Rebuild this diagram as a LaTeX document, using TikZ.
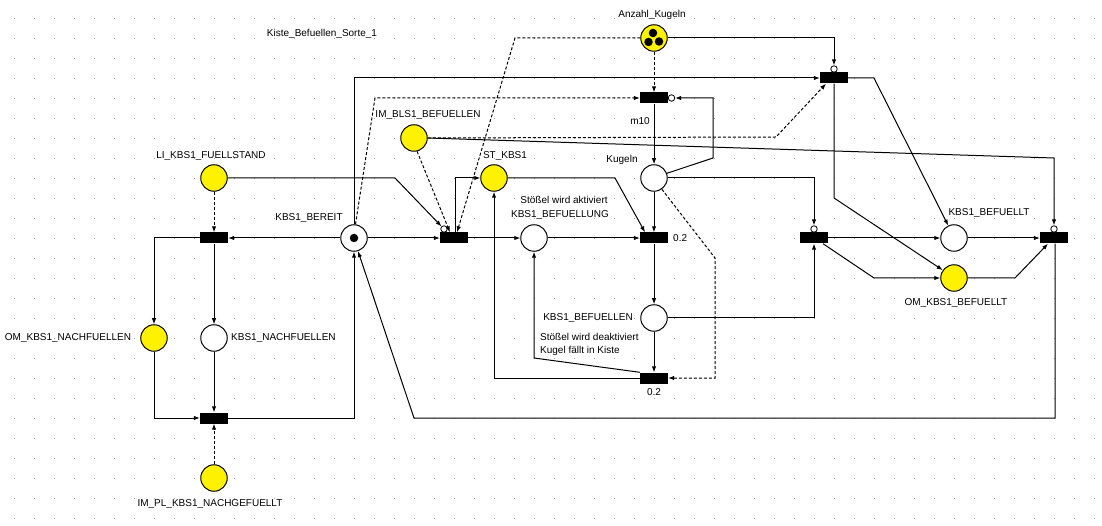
\documentclass[tikz,border=0pt]{standalone}
\usepackage{fontspec}
\setmainfont{Liberation Sans}
\usetikzlibrary{arrows.meta}
\tikzset{
  place/.style={circle, draw, line width=1pt, minimum size=26.5pt, inner sep=0pt, fill=white},
  yplace/.style={place, fill=yellow},
  trans/.style={rectangle, fill=black, minimum width=28pt, minimum height=11pt, inner sep=0pt},
  flow/.style={line width=1pt, -{Latex[length=6pt,width=4.5pt]}},
  readarc/.style={flow, dash pattern=on 3pt off 2pt},
  inh/.style={circle, draw, line width=0.8pt, minimum size=6.5pt, inner sep=0pt, fill=white},
  lbl/.style={font=\fontsize{10}{12}\selectfont, inner sep=0pt},
  token/.style={circle, fill=black, minimum size=8.5pt, inner sep=0pt}
}
\begin{document}
\begin{tikzpicture}[x=1pt,y=-1pt]
\fill[white] (0,0) rectangle (1102,526);
\useasboundingbox (0,0) rectangle (1102,526);
% grid dots
\foreach \i in {0,...,54}{\foreach \j in {0,...,25}{
  \fill[black!35] ({14+20*\i},{18+20*\j}) rectangle +(1,1);}}

% places
\node[yplace] (anz) at (654,38) {};
\node[token] (tk1) at (653,33) {};
\node[token] (tk2) at (648.5,42) {};
\node[token] (tk3) at (659,41.5) {};
\node[place] (kug) at (654,178) {};
\node[place] (bfu) at (534,238) {};
\node[yplace] (st) at (494,178) {};
\node[yplace] (imb) at (414,138) {};
\node[yplace] (li) at (214,178) {};
\node[place] (ber) at (354,238) {};
\node[token] (tk4) at (354,238) {};
\node[yplace] (omn) at (154,338) {};
\node[place] (nach) at (214,338) {};
\node[yplace] (impl) at (214,478) {};
\node[place] (bfn) at (654,318) {};
\node[place] (bft) at (954,238) {};
\node[yplace] (omb) at (954,278) {};

% transitions
\node[trans] (m10) at (654,98) {};
\node[trans] (ttop) at (834,78) {};
\node[trans] (tup) at (654,238) {};
\node[trans] (tmid) at (814,238) {};
\node[trans] (tleft) at (214,238) {};
\node[trans] (tbout) at (454,238) {};
\node[trans] (tbl) at (214,418) {};
\node[trans] (tlow) at (654,378) {};
\node[trans] (tright) at (1054,238) {};

% inhibitor circles
\node[inh] (ib) at (444,229) {};
\node[inh] (im) at (671.5,98) {};
\node[inh] (itop) at (834,69) {};
\node[inh] (imid) at (814,229) {};
\node[inh] (iright) at (1054,229) {};

% labels
\node[lbl] (l1) at (652,15) {Anzahl\_Kugeln};
\node[lbl] (l2) at (322,34) {Kiste\_Befuellen\_Sorte\_1};
\node[lbl] (l3) at (640,121) {m10};
\node[lbl] (l4) at (622,160) {Kugeln};
\node[lbl,anchor=west] (l5) at (673,238) {0.2};
\node[lbl] (l6) at (564,200) {Stößel wird aktiviert};
\node[lbl] (l7) at (560,215) {KBS1\_BEFUELLUNG};
\node[lbl] (l8) at (505,156) {ST\_KBS1};
\node[lbl] (l9) at (428,115) {IM\_BLS1\_BEFUELLEN};
\node[lbl] (l10) at (211,156) {LI\_KBS1\_FUELLSTAND};
\node[lbl] (l11) at (309,218) {KBS1\_BEREIT};
\node[lbl] (l12) at (68,338) {OM\_KBS1\_NACHFUELLEN};
\node[lbl,anchor=west] (l13) at (231,338) {KBS1\_NACHFUELLEN};
\node[lbl] (l14) at (210,504) {IM\_PL\_KBS1\_NACHGEFUELLT};
\node[lbl] (l15) at (588,318) {KBS1\_BEFUELLEN};
\node[lbl,anchor=west] (l16) at (540,337) {Stößel wird deaktiviert};
\node[lbl,anchor=west] (l17) at (540,351) {Kugel fällt in Kiste};
\node[lbl] (l18) at (654,392) {0.2};
\node[lbl] (l19) at (989,213) {KBS1\_BEFUELLT};
\node[lbl] (l20) at (956,303) {OM\_KBS1\_BEFUELLT};

% normal arcs
\draw[flow] (ber.west) -- (tleft.east);
\draw[flow] (ber.east) -- (tbout.west);
\draw[flow] (tbout.east) -- (bfu.west);
\draw[flow] (bfu.east) -- (tup.west);
\draw[flow] ([xshift=1pt]tbout.north) -- (455,178) -- (st.west);
\draw[flow] (st.east) -- (615,178) -- ([xshift=-9pt]tup.north);
\draw[flow] (kug.south) -- (tup.north);
\draw[flow] (tup.south) -- (bfn.north);
\draw[flow] (bfn.south) -- (tlow.north);
\draw[flow] (tlow.west) -- (494,378) -- (st.south);
\draw[flow] (tlow.north west) -- (534,358) -- (bfu.south);
\draw[flow] (bfn.east) -| (tmid.south);
\draw[flow] (tmid.east) -- (bft.west);
\draw[flow] ([xshift=9pt]tmid.south) -- (874,278) -- (omb.west);
\draw[flow] (bft.east) -- (tright.west);
\draw[flow] (omb.east) -- (1015,278) -- ([xshift=-6pt]tright.south);
\draw[flow] ([xshift=1pt]tright.south) -- (1055,418) -- (414,418) -- (ber.-73);
\draw[flow] (tbl.east) -| (ber.south);
\draw[flow] (tleft.west) -| (omn.north);
\draw[flow] (tleft.south) -- (nach.north);
\draw[flow] (nach.south) -- (tbl.north);
\draw[flow] (omn.south) |- (tbl.west);
\draw[flow] (ber.north) -- (354,78) -- (ttop.west);
\draw[flow] (ttop.east) -- (874,78) -- (bft.115);
\draw[flow] (ttop.south) -- (834,198) -- (omb.145);
\draw[flow] (m10.south) -- (kug.north);

% read arcs
\draw[readarc] (li.south) -- (tleft.north);
\draw[readarc] (impl.north) -- (tbl.south);
\draw[readarc] (imb.-77) -- ([xshift=-4pt]tbout.north);
\draw[readarc] (anz.west) -- (515,38) -- ([xshift=3pt]tbout.north);
\draw[readarc] (anz.south) -- (m10.north);
\draw[readarc] ([xshift=1.5pt]ber.north) -- (375,98) -- (m10.west);
\draw[readarc] (imb.east) -- (776,137) -- ([xshift=-8pt]ttop.south);
\draw[readarc] (kug.-55) -- (715,258) -- (715,378) -- (tlow.east);

% inhibitor arcs
\draw[flow] (li.east) -- (395,178) -- (ib);
\draw[flow] (kug.20) -- (713,158) -- (713,98) -- (im);
\draw[flow] (anz.east) -| (itop);
\draw[flow] (kug.east) -| (imid);
\draw[flow] (imb.east) -- (1054,158) -- (iright);
\end{tikzpicture}
\end{document}
